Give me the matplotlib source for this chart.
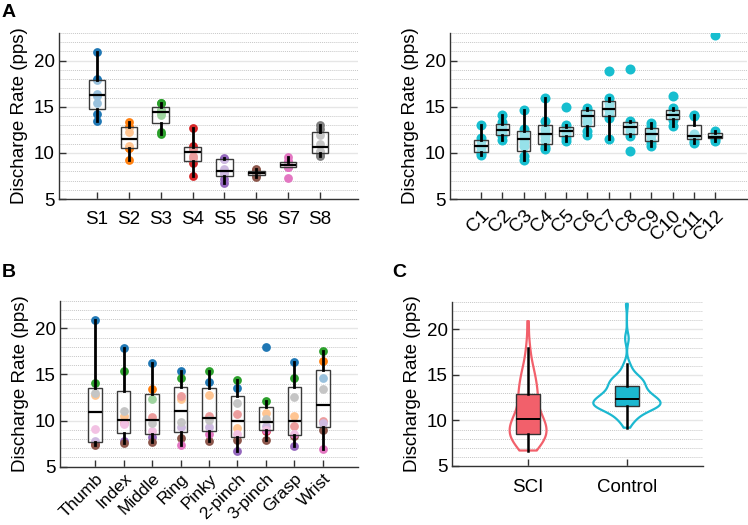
import numpy as np
import matplotlib
matplotlib.use("Agg")
import matplotlib.pyplot as plt
from matplotlib.ticker import MultipleLocator

plt.rcParams['font.family'] = ['Liberation Sans', 'DejaVu Sans']

# ---------------- data ----------------
subjects = ["S1", "S2", "S3", "S4", "S5", "S6", "S7", "S8"]
tasks = ["Thumb", "Index", "Middle", "Ring", "Pinky", "2-pinch", "3-pinch", "Grasp", "Wrist"]
# rows: subjects, columns: tasks (discharge rate, pps)
S1 = [20.9, 17.9, 16.2, 15.4, 14.2, 13.5, 18.0, 16.4, 14.6]
S2 = [12.8, 10.5, 13.4, 12.3, 12.8, 9.2, 10.8, 10.5, 16.45]
S3 = [14.1, 15.4, 12.3, 14.6, 15.4, 14.35, 12.1, 14.6, 17.5]
S4 = [7.5, 9.7, 10.4, 12.7, 10.5, 10.7, 8.9, 9.4, 10.0]
S5 = [7.8, 7.8, 8.25, 9.35, 9.3, 6.7, 9.4, 7.2, 9.7]
S6 = [7.35, 7.6, 7.7, 8.15, 7.75, 7.9, 7.9, 8.3, 9.0]
S7 = [9.1, 9.6, 8.9, 7.3, 8.5, 8.5, 9.0, 8.5, 6.9]
S8 = [13.0, 11.0, 9.7, 9.8, 10.1, 11.9, 10.2, 12.6, 13.4]
sci = [S1, S2, S3, S4, S5, S6, S7, S8]

controls = ["C1", "C2", "C3", "C4", "C5", "C6", "C7", "C8", "C9", "C10", "C11", "C12"]
C1 = [9.8, 10.0, 10.2, 10.6, 10.8, 11.3, 11.6, 13.0]
C2 = [11.4, 11.8, 12.0, 12.3, 12.7, 12.9, 13.3, 14.1]
C3 = [9.2, 9.7, 10.8, 11.2, 11.8, 12.2, 12.6, 14.6]
C4 = [10.4, 10.6, 11.4, 11.8, 12.2, 12.6, 13.5, 16.0]
C5 = [11.3, 11.6, 12.0, 12.3, 12.5, 12.7, 13.0, 15.0]
C6 = [11.9, 12.4, 13.4, 13.8, 14.2, 14.5, 14.7, 14.9]
C7 = [11.5, 13.8, 14.1, 14.6, 14.9, 15.4, 15.9, 18.9]
C8 = [10.2, 11.8, 12.4, 12.7, 12.9, 13.2, 13.5, 19.1]
C9 = [10.7, 11.1, 11.4, 11.9, 12.2, 12.5, 12.9, 13.2]
C10 = [12.9, 13.6, 13.8, 14.1, 14.2, 14.4, 14.9, 16.2]
C11 = [11.1, 11.3, 11.7, 11.7, 11.9, 12.0, 14.0, 14.1]
C12 = [11.3, 11.5, 11.7, 11.7, 11.7, 11.9, 12.4, 22.8]
ctrl = [C1, C2, C3, C4, C5, C6, C7, C8, C9, C10, C11, C12]

groups = ["SCI", "Control"]
n_finger_tasks = 8  # panels A and C use the finger tasks (no wrist)

# ---------------- style ----------------
subj_colors = plt.get_cmap('tab10').colors[:8]
ctrl_color = '#17becf'
sci_violin = '#f2606b'
ctrl_violin = '#1cb8d0'
FS = 13.5


def box_stats(vals):
    v = np.asarray(vals, float)
    q1, med, q3 = np.percentile(v, [25, 50, 75], method='hazen')
    iqr = q3 - q1
    lo = v[v >= q1 - 1.5 * iqr].min()
    hi = v[v <= q3 + 1.5 * iqr].max()
    return dict(med=med, q1=q1, q3=q3, whislo=lo, whishi=hi, fliers=[])


def style_axes(ax):
    ax.set_ylim(5, 23)
    ax.yaxis.set_major_locator(MultipleLocator(5))
    ax.yaxis.set_minor_locator(MultipleLocator(1))
    ax.grid(axis='y', which='minor', color='#c8c8c8', linestyle=(0, (1, 1)), lw=0.7)
    ax.grid(axis='y', which='major', color='#e6e6e6', linestyle='-', lw=1.0)
    ax.set_axisbelow(True)
    for s in ['top', 'right']:
        ax.spines[s].set_visible(False)
    for s in ['left', 'bottom']:
        ax.spines[s].set_color('#333333')
        ax.spines[s].set_linewidth(1.0)
    ax.tick_params(axis='both', which='major', direction='in', length=5,
                   width=1, color='#333333', labelsize=FS)
    ax.tick_params(axis='y', which='minor', length=0)
    ax.tick_params(axis='y', pad=3)
    ax.tick_params(axis='x', pad=9)
    ax.set_ylabel("Discharge Rate (pps)", fontsize=FS, labelpad=4)


def draw_boxes(ax, data, positions, width):
    st = [box_stats(d) for d in data]
    ax.bxp(st, positions=positions, widths=width, patch_artist=True,
           showcaps=False, showfliers=False,
           boxprops=dict(facecolor=(1, 1, 1, 0.55), edgecolor='#3a3a3a', lw=1.0),
           medianprops=dict(color='black', lw=1.6),
           whiskerprops=dict(color='black', lw=2.0), zorder=3)


fig = plt.figure(figsize=(7.48, 5.25), dpi=100)

# ---------- Panel A left ----------
ax1 = fig.add_axes([59 / 748, 1 - 199 / 525, 299 / 748, 166 / 525])
xs = np.arange(len(subjects))
for i, row in enumerate(sci):
    vals = row[:n_finger_tasks]
    ax1.scatter(np.full(len(vals), xs[i]), vals, s=40, color=subj_colors[i],
                zorder=2, linewidths=0)
draw_boxes(ax1, [r[:n_finger_tasks] for r in sci], xs, 0.52)
style_axes(ax1)
ax1.set_xlim(-1.19, 8.19)
ax1.set_xticks(xs)
ax1.set_xticklabels(subjects)

# ---------- Panel A right ----------
ax2 = fig.add_axes([450 / 748, 1 - 199 / 525, 297 / 748, 166 / 525])
xc = np.arange(len(controls))
for i, vals in enumerate(ctrl):
    ax2.scatter(np.full(len(vals), xc[i]), vals, s=52, color=ctrl_color,
                zorder=2, linewidths=0)
draw_boxes(ax2, ctrl, xc, 0.63)
style_axes(ax2)
ax2.set_xlim(-1.46, 12.5)
ax2.set_xticks(xc)
ax2.set_xticklabels(controls, rotation=45, ha='right', va='top',
                    rotation_mode='anchor')
ax2.tick_params(axis='x', pad=6)

# ---------- Panel B ----------
ax3 = fig.add_axes([60 / 748, 1 - 466.7 / 525, 298 / 748, 166 / 525])
xt = np.arange(len(tasks))
for i, row in enumerate(sci):
    ax3.scatter(xt, row, s=40, color=subj_colors[i], zorder=2, linewidths=0)
task_data = [[sci[i][j] for i in range(len(sci))] for j in range(len(tasks))]
draw_boxes(ax3, task_data, xt, 0.47)
style_axes(ax3)
ax3.set_xlim(-1.23, 9.23)
ax3.set_xticks(xt)
ax3.set_xticklabels(tasks, rotation=45, ha='right', va='top',
                    rotation_mode='anchor', fontsize=12.5)
ax3.tick_params(axis='x', pad=3)

# ---------- Panel C ----------
ax4 = fig.add_axes([452 / 748, 1 - 466 / 525, 251 / 748, 164 / 525])
pooled = [np.concatenate([np.asarray(r[:n_finger_tasks], float) for r in sci]),
          np.concatenate([np.asarray(c, float) for c in ctrl])]


def kde(v, grid):
    n = len(v)
    sd = v.std(ddof=1)
    iqr = np.subtract(*np.percentile(v, [75, 25]))
    bw = 0.9 * min(sd, iqr / 1.34) * n ** (-0.2)
    z = (grid[:, None] - v[None, :]) / bw
    return np.exp(-0.5 * z ** 2).sum(1) / (n * bw * np.sqrt(2 * np.pi))


grids = [np.linspace(v.min(), v.max(), 300) for v in pooled]
dens = [kde(v, g) for v, g in zip(pooled, grids)]
scale = 0.34 / max(d.max() for d in dens)
vcols = [sci_violin, ctrl_violin]
for k in range(2):
    w = dens[k] * scale
    ax4.fill_betweenx(grids[k], k - w, k + w, facecolor='none',
                      edgecolor=vcols[k], lw=1.6, zorder=2)
st = [box_stats(v) for v in pooled]
bp = ax4.bxp(st, positions=[0, 1], widths=0.24, patch_artist=True,
             showcaps=False, showfliers=False,
             boxprops=dict(edgecolor='#333333', lw=1.0),
             medianprops=dict(color='black', lw=1.4),
             whiskerprops=dict(color='black', lw=1.8), zorder=3)
for patch, c in zip(bp['boxes'], vcols):
    patch.set_facecolor(c)
style_axes(ax4)
ax4.set_xlim(-0.77, 1.77)
ax4.set_xticks([0, 1])
ax4.set_xticklabels(groups)

# panel letters
fig.text(2 / 748, 1 - 4 / 525, "A", fontsize=14, fontweight='bold', va='top', ha='left')
fig.text(2 / 748, 1 - 264 / 525, "B", fontsize=14, fontweight='bold', va='top', ha='left')
fig.text(392 / 748, 1 - 264 / 525, "C", fontsize=14, fontweight='bold', va='top', ha='left')

fig.savefig("out.png", dpi=100)
